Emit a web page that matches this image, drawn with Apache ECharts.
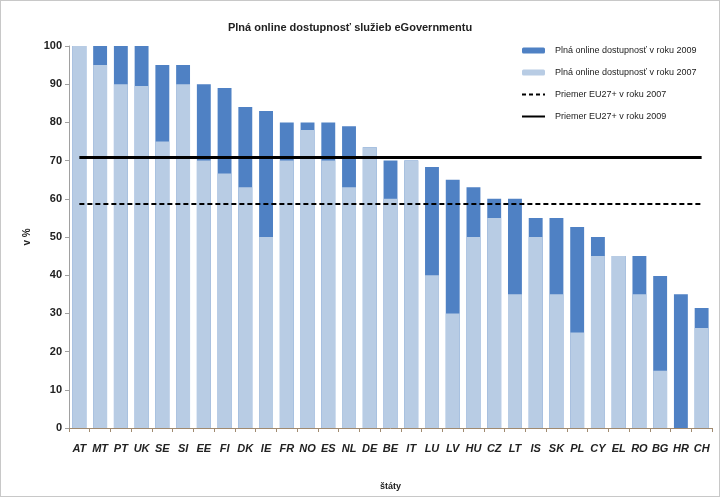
<!DOCTYPE html>
<html><head><meta charset="utf-8">
<script src="https://cdn.jsdelivr.net/npm/echarts@6/dist/echarts.min.js"></script>
<style>html,body{margin:0;padding:0;background:#fff}#c{width:720px;height:497px;box-sizing:border-box;border:1px solid #c8c8c8}</style>
</head><body><div id="c"></div>
<script>
const categories = ['AT','MT','PT','UK','SE','SI','EE','FI','DK','IE','FR','NO','ES','NL','DE','BE','IT','LU','LV','HU','CZ','LT','IS','SK','PL','CY','EL','RO','BG','HR','CH'];
const values2009 = [100,100,100,100,95,95,90,89,84,83,80,80,80,79,73.5,70,70,68.3,65,63,60,60,55,55,52.6,50,45,45,39.8,35,31.4];
const values2007 = [100,95,90,89.5,75,90,70,66.6,63,50,70,78,70,63,73.5,60,70,40,30,50,55,35,50,35,25,45,45,35,15,0,26.2];
const avg2007 = 58.8;
const avg2009 = 70.9;
const yTicks = [0,10,20,30,40,50,60,70,80,90,100];

const FONT = "'Liberation Sans Narrow','Liberation Sans',Arial,sans-serif";
const DARK = '#4f81c4';
const LIGHT = '#b8cce4';
const chart = echarts.init(document.getElementById('c'), null, {renderer:'canvas'});
const first = categories[0], last = categories[categories.length-1];
const names = ['Plná online dostupnosť v roku 2009','Plná online dostupnosť v roku 2007','Priemer EU27+ v roku 2007','Priemer EU27+ v roku 2009'];
chart.setOption({
  animation:false,
  title:{text:'Plná online dostupnosť služieb eGovernmentu', left:344, textAlign:'center', top:16,
    textStyle:{fontFamily:FONT, fontSize:11, fontWeight:'bold', color:'#222'}},
  legend:{orient:'vertical', left:515, top:40, itemGap:13, itemWidth:23, itemHeight:6,
    textStyle:{fontFamily:FONT, fontSize:9, color:'#222', padding:[0,0,0,5]},
    data:[names[0], names[1],
      {name:names[2], itemStyle:{opacity:0}},
      {name:names[3], itemStyle:{opacity:0}}]},
  grid:{left:68, right:7, top:45, bottom:67},
  xAxis:{type:'category', data:categories, name:'štáty', nameLocation:'middle', nameGap:54,
    nameTextStyle:{fontFamily:FONT, fontSize:9, fontWeight:'bold', color:'#222'},
    axisLine:{lineStyle:{color:'#a08a70', width:1}},
    axisTick:{show:true, length:4, lineStyle:{color:'#a08a70'}},
    axisLabel:{interval:0, fontFamily:FONT, fontSize:11, fontWeight:'bold', fontStyle:'italic', color:'#222', margin:15}},
  yAxis:{type:'value', min:0, max:100, interval:10, name:'v %', nameLocation:'middle', nameGap:34, nameRotate:90,
    nameTextStyle:{fontFamily:FONT, fontSize:10, fontWeight:'bold', color:'#222'},
    axisLine:{show:true, lineStyle:{color:'#a0a0a0'}},
    axisTick:{show:true, length:4, lineStyle:{color:'#a0a0a0'}},
    splitLine:{show:false},
    axisLabel:{fontFamily:FONT, fontSize:11, fontWeight:'bold', color:'#222', margin:7,
      formatter:v=>yTicks.includes(v)?String(v):''}},
  series:[
    {name:names[0], type:'bar', data:values2009, barWidth:'67%', barGap:'-100%', itemStyle:{color:DARK}, z:2},
    {name:names[1], type:'bar', data:values2007, barWidth:'67%', barGap:'-100%', itemStyle:{color:LIGHT}, z:3},
    {name:names[2], type:'line', data:[], symbol:'none', showSymbol:false, itemStyle:{color:'#000'},
      lineStyle:{color:'#000', width:2, type:[4,3]}, z:5,
      markLine:{silent:true, symbol:'none', label:{show:false},
        lineStyle:{color:'#000', width:2, type:[5,3]},
        data:[[{coord:[first,avg2007]},{coord:[last,avg2007]}]]}},
    {name:names[3], type:'line', data:[], symbol:'none', showSymbol:false, itemStyle:{color:'#000'},
      lineStyle:{color:'#000', width:3, type:'solid'}, z:5,
      markLine:{silent:true, symbol:'none', label:{show:false},
        lineStyle:{color:'#000', width:3, type:'solid'},
        data:[[{coord:[first,avg2009]},{coord:[last,avg2009]}]]}}
  ]
});
</script></body></html>
